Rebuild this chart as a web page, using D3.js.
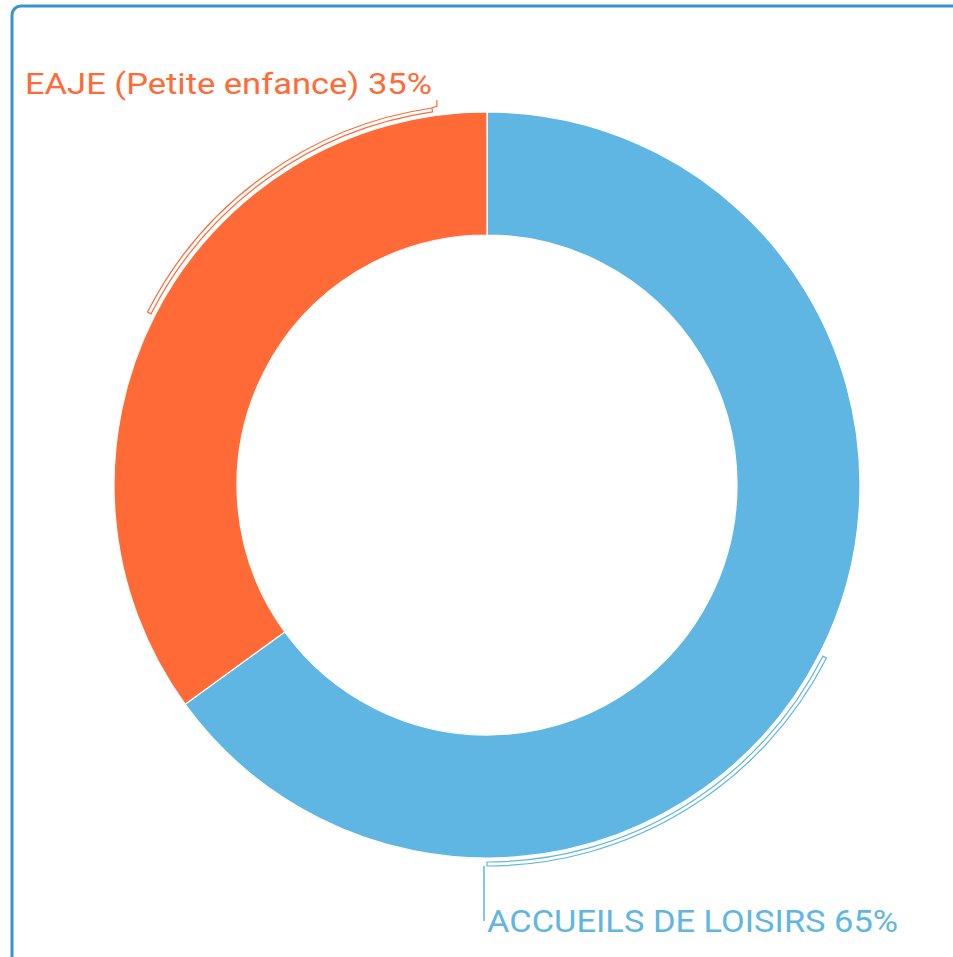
<!DOCTYPE html>
<html lang="fr">
<head>
<meta charset="UTF-8">
<script src="https://cdn.jsdelivr.net/npm/d3@7"></script>
<title>Donut</title>
<style>
  body { margin: 0; background: #fff; }
  text { font-family: Roboto, "Open Sans", sans-serif; }
</style>
</head>
<body>
<script>
var width = 953,
    height = 957;

// data
var categories = ["ACCUEILS DE LOISIRS", "EAJE (Petite enfance)"];
var values = [65, 35];
var colors = ["#5fb6e3", "#ff6a36"];

var cx = 487, cy = 485;
var outerR = 373, innerR = 250;

var svg = d3.select("body").append("svg")
    .attr("width", width).attr("height", height);

// panel frame (runs off the right and bottom edges)
svg.append("rect")
    .attr("x", 12).attr("y", 6)
    .attr("width", 1000).attr("height", 1000)
    .attr("rx", 9)
    .attr("fill", "none")
    .attr("stroke", "#3a94cc")
    .attr("stroke-width", 3);

var pie = d3.pie().sort(null).value(function(d){ return d; });
var arcs = pie(values);

var arc = d3.arc().innerRadius(innerR).outerRadius(outerR);
var g = svg.append("g").attr("transform", "translate(" + cx + "," + cy + ")");

g.selectAll("path.slice").data(arcs)
    .enter()
    .append("path")
    .attr("class", "slice")
    .attr("d", arc)
    .attr("fill", function(d, i){ return colors[i]; })
    .attr("stroke", "#fff")
    .attr("stroke-width", 1.2);

// bracket from the slice middle towards its label
var bracketR0 = outerR + 4, bracketR1 = outerR + 8;
var bracketArc = d3.arc().innerRadius(bracketR0).outerRadius(bracketR1);
var labelAngle = [Math.PI, 2 * Math.PI - 0.145];

arcs.forEach(function(d, i){
    var mid = (d.startAngle + d.endAngle) / 2;
    var a0 = Math.min(mid, labelAngle[i]), a1 = Math.max(mid, labelAngle[i]);
    g.append("path")
        .attr("d", bracketArc({startAngle: a0, endAngle: a1}))
        .attr("fill", "#fff")
        .attr("stroke", colors[i])
        .attr("stroke-width", 1.2);
});

// labels
var pct = function(d){ return Math.round(d.data) + "%"; };

// blue label: hangs below the bottom end of the bracket
var bx = cx + Math.sin(Math.PI) * bracketR1,
    by = cy - Math.cos(Math.PI) * bracketR1;
svg.append("path")
    .attr("d", "M" + (bx - 3) + "," + by + "V" + (by + 55))
    .attr("fill", "none")
    .attr("stroke", colors[0])
    .attr("stroke-width", 1.5);
svg.append("text")
    .attr("x", bx)
    .attr("y", 932)
    .attr("fill", colors[0])
    .attr("font-size", "31px")
    .attr("textLength", 411)
    .attr("lengthAdjust", "spacingAndGlyphs")
    .text(categories[0] + " " + pct(arcs[0]));

// orange label: sits above the top end of its bracket
var ox = cx + Math.sin(labelAngle[1]) * bracketR1,
    oy = cy - Math.cos(labelAngle[1]) * bracketR1;
svg.append("path")
    .attr("d", "M" + ox + "," + oy + "L" + (ox + 5) + "," + (oy - 2) + "V" + (oy - 8))
    .attr("fill", "none")
    .attr("stroke", colors[1])
    .attr("stroke-width", 1.2);
svg.append("text")
    .attr("x", 25)
    .attr("y", 94)
    .attr("fill", colors[1])
    .attr("font-size", "30px")
    .attr("textLength", 407)
    .attr("lengthAdjust", "spacingAndGlyphs")
    .text(categories[1] + " " + pct(arcs[1]));
</script>
</body>
</html>
